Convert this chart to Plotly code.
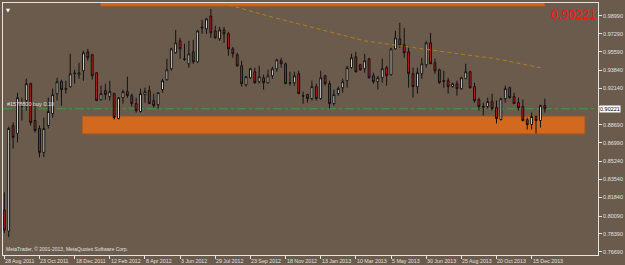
import plotly.graph_objects as go

# Weekly USD/CHF-style candles (index = week number starting 28 Aug 2011)
opens = [
    .8064, .7866, .8864, .8789, .9043, .9099, .9259, .8911, .8836, .8610,
    .8864, .8977, .9165, .9278, .9212, .9231, .9353, .9344, .9381, .9560,
    .9532, .9363, .9108, .9193, .9137, .9165, .8930, .9127, .9184, .9146,
    .9071, .8996, .9156, .9193, .9099, .9061, .9203, .9297, .9400, .9551,
    .9664, .9494, .9447, .9560, .9466, .9795, .9777, .9899, .9758, .9683,
    .9767, .9730, .9588, .9532, .9428, .9250, .9315, .9372, .9278, .9315,
    .9268, .9334, .9400, .9476, .9447, .9268, .9268, .9353, .9146, .9156,
    .9118, .9231, .9118, .9334, .9259, .9071, .9165, .9221, .9287, .9410,
    .9513, .9438, .9400, .9494, .9334, .9278, .9315, .9410, .9344, .9588,
    .9683, .9626, .9560, .9353, .9231, .9353, .9438, .9645, .9457, .9391,
    .9287, .9287, .9231, .9259, .9212, .9306, .9372, .9231, .9108, .9043,
    .9043, .9090, .9033, .8920, .9118, .9221, .9137, .9080, .9043, .8920,
    .8873, .8949, .8911, .9052]
highs = [
    .8233, .8854, .8892, .9174, .9127, .9306, .9268, .9080, .8864, .8939,
    .9127, .9212, .9315, .9297, .9287, .9541, .9391, .9457, .9570, .9588,
    .9541, .9363, .9240, .9259, .9287, .9174, .9127, .9203, .9325, .9165,
    .9127, .9212, .9221, .9240, .9165, .9174, .9306, .9494, .9598, .9767,
    .9692, .9636, .9664, .9673, .9767, .9861, .9880, .9965, .9805, .9795,
    .9795, .9748, .9607, .9551, .9476, .9334, .9410, .9410, .9428, .9344,
    .9391, .9419, .9494, .9504, .9457, .9372, .9372, .9381, .9184, .9165,
    .9287, .9259, .9381, .9344, .9287, .9203, .9231, .9306, .9428, .9541,
    .9560, .9447, .9541, .9504, .9363, .9334, .9494, .9428, .9598, .9758,
    .9833, .9786, .9617, .9410, .9410, .9504, .9664, .9739, .9494, .9400,
    .9381, .9315, .9268, .9287, .9325, .9447, .9381, .9268, .9127, .9080,
    .9127, .9165, .9099, .9127, .9240, .9231, .9174, .9127, .9108, .8939,
    .8986, .8958, .9061, .9118]
lows = [
    .7848, .7810, .8647, .8704, .8911, .9005, .8864, .8798, .8564, .8564,
    .8836, .8939, .9099, .9052, .9165, .9221, .9259, .9306, .9287, .9476,
    .9297, .9099, .9099, .9108, .9099, .8920, .8920, .9071, .9127, .9043,
    .8986, .8986, .9080, .9071, .9033, .9024, .9174, .9287, .9381, .9541,
    .9494, .9476, .9410, .9447, .9457, .9730, .9730, .9692, .9683, .9664,
    .9645, .9523, .9504, .9419, .9231, .9231, .9306, .9259, .9259, .9203,
    .9259, .9306, .9372, .9410, .9259, .9240, .9240, .9165, .9071, .9080,
    .9099, .9099, .9108, .9240, .9024, .9052, .9146, .9174, .9221, .9400,
    .9363, .9381, .9363, .9306, .9259, .9203, .9268, .9240, .9334, .9579,
    .9598, .9504, .9221, .9127, .9165, .9306, .9410, .9447, .9353, .9259,
    .9221, .9165, .9221, .9146, .9203, .9306, .9212, .9080, .9005, .8958,
    .9024, .9005, .8883, .8911, .9080, .9118, .9071, .9005, .8902, .8826,
    .8826, .8789, .8845, .8986]
closes = [
    .7876, .8836, .8751, .9127, .9061, .9259, .8892, .8817, .8610, .8836,
    .8996, .9156, .9278, .9203, .9207, .9353, .9358, .9363, .9551, .9504,
    .9334, .9099, .9165, .9156, .9184, .8939, .9127, .9184, .9146, .9071,
    .9005, .9165, .9184, .9071, .9052, .9174, .9287, .9391, .9588, .9645,
    .9588, .9490, .9541, .9466, .9758, .9786, .9871, .9739, .9692, .9767,
    .9730, .9588, .9541, .9428, .9259, .9325, .9400, .9268, .9325, .9268,
    .9334, .9400, .9485, .9447, .9259, .9264, .9334, .9165, .9142, .9118,
    .9231, .9118, .9315, .9259, .9071, .9156, .9212, .9278, .9410, .9504,
    .9372, .9391, .9476, .9315, .9278, .9315, .9400, .9334, .9588, .9692,
    .9617, .9551, .9353, .9231, .9363, .9447, .9645, .9447, .9381, .9268,
    .9283, .9231, .9259, .9212, .9315, .9372, .9221, .9099, .9043, .9038,
    .9090, .9024, .8930, .9118, .9212, .9127, .9071, .9033, .8911, .8873,
    .8949, .8911, .9052, .90221]
weeks = list(range(len(opens)))

# Moving average (sparse points)
ma_weeks = [48, 50, 60, 67, 75, 82, 90, 97, 105, 112, 122]
ma_values = [1.0040, 1.0016, .9899, .9824, .9739, .9664, .9617, .9579, .9532, .9494, .9410]

# Date labels every 8 weeks
date_label_weeks = [0, 8, 16, 24, 32, 40, 48, 56, 64, 72, 80, 88, 96, 104, 112, 120]
date_labels = ["28 Aug 2011", "23 Oct 2011", "18 Dec 2011", "12 Feb 2012", "8 Apr 2012",
               "3 Jun 2012", "29 Jul 2012", "23 Sep 2012", "18 Nov 2012", "13 Jan 2013",
               "10 Mar 2013", "5 May 2013", "30 Jun 2013", "25 Aug 2013", "20 Oct 2013",
               "15 Dec 2013"]

price_ticks = [0.98990, 0.97290, 0.95590, 0.93840, 0.92140, 0.90440, 0.88690,
               0.86990, 0.85240, 0.83540, 0.81840, 0.80090, 0.78390, 0.76690]
# 0.90440 label is hidden behind the current-price box in the reference
price_tick_text = ["0.98990", "0.97290", "0.95590", "0.93840", "0.92140", "", "0.88690",
                   "0.86990", "0.85240", "0.83540", "0.81840", "0.80090", "0.78390", "0.76690"]

current_price = 0.90221
order_text = "#1578800 buy 0.10"

# Zones (rectangles) in week/price units
top_zone = dict(w0=21.9, w1=123.0, p0=0.9993, p1=1.0200)
low_zone = dict(w0=17.8, w1=132.1, p0=0.8785, p1=0.8951)

BG = "#6B5B4C"
FRAME = "#E4E4E4"
LABEL = "#E0E0E0"
ORANGE = "#D2691E"
FONT = "Liberation Sans"

fig = go.Figure()
fig.add_trace(go.Candlestick(
    x=weeks, open=opens, high=highs, low=lows, close=closes,
    increasing=dict(line=dict(color="#111111", width=1), fillcolor="#F6F4F0"),
    decreasing=dict(line=dict(color="#111111", width=1), fillcolor="#C81E1E"),
    whiskerwidth=0, hoverinfo="skip", showlegend=False))
fig.add_trace(go.Scatter(
    x=ma_weeks, y=ma_values, mode="lines",
    line=dict(color="#B08018", width=1, dash="4px,3px"),
    hoverinfo="skip", showlegend=False))

shapes = [
    dict(type="rect", xref="x", yref="y", x0=top_zone["w0"], x1=top_zone["w1"],
         y0=top_zone["p0"], y1=top_zone["p1"], fillcolor=ORANGE,
         line=dict(color="#B85A18", width=1), layer="below"),
    dict(type="rect", xref="x", yref="y", x0=low_zone["w0"], x1=low_zone["w1"],
         y0=low_zone["p0"], y1=low_zone["p1"], fillcolor=ORANGE,
         line=dict(color="#B85A18", width=1), layer="below"),
    dict(type="line", xref="paper", yref="y", x0=0, x1=1, y0=current_price, y1=current_price,
         line=dict(color="#3C9C3C", width=1, dash="dashdot"), layer="below"),
]

annotations = []
for w, t in zip(date_label_weeks, date_labels):
    annotations.append(dict(x=w, y=0, xref="x", yref="paper", text=t, showarrow=False,
                            xanchor="left", yanchor="top", xshift=-1, yshift=-1,
                            font=dict(family=FONT, size=5.3, color=LABEL)))
annotations += [
    dict(x=1, y=current_price, xref="paper", yref="y", text="0.90221", showarrow=False,
         xanchor="left", yanchor="middle", xshift=1, bgcolor="#FFFFFF", borderpad=0,
         font=dict(family=FONT, size=5.5, color="#000000")),
    dict(x=1, y=1, xref="paper", yref="paper", text="0.90221", showarrow=False,
         xanchor="right", yanchor="top", xshift=0, yshift=-3,
         font=dict(family=FONT, size=12.5, color="#FF1010")),
    dict(x=0, y=0, xref="paper", yref="paper",
         text="MetaTrader, \u00a9 2001-2013, MetaQuotes Software Corp.", showarrow=False,
         xanchor="left", yanchor="bottom", xshift=1, yshift=1,
         font=dict(family=FONT, size=5, color=LABEL)),
    dict(x=0, y=current_price, xref="paper", yref="y", text=order_text, showarrow=False,
         xanchor="left", yanchor="bottom", xshift=2, yshift=0,
         font=dict(family=FONT, size=5.5, color=LABEL)),
    dict(x=0, y=1, xref="paper", yref="paper", text="\u25bc", showarrow=False,
         xanchor="left", yanchor="top", xshift=1, yshift=-2,
         font=dict(family="DejaVu Sans", size=5, color="#FFFFFF")),
]

fig.update_layout(
    width=625, height=265,
    margin=dict(l=2, r=23, t=2, b=10, pad=0),
    paper_bgcolor=BG, plot_bgcolor=BG,
    boxgap=0.4,
    shapes=shapes, annotations=annotations,
    showlegend=False,
    xaxis=dict(range=[-0.3, 135.1], showgrid=False, zeroline=False,
               showline=True, mirror=True, linecolor=FRAME, linewidth=1,
               ticks="outside", ticklen=3, tickcolor=FRAME, tickvals=date_label_weeks,
               showticklabels=False, rangeslider=dict(visible=False), fixedrange=True),
    yaxis=dict(range=[0.76405, 1.00213], side="right", showgrid=False, zeroline=False,
               showline=True, mirror=True, linecolor=FRAME, linewidth=1,
               ticks="outside", ticklen=3, tickcolor=FRAME,
               tickvals=price_ticks, ticktext=price_tick_text,
               tickfont=dict(family=FONT, size=5.5, color=LABEL), fixedrange=True),
)

fig.write_html("out.html", config={"displayModeBar": False})
